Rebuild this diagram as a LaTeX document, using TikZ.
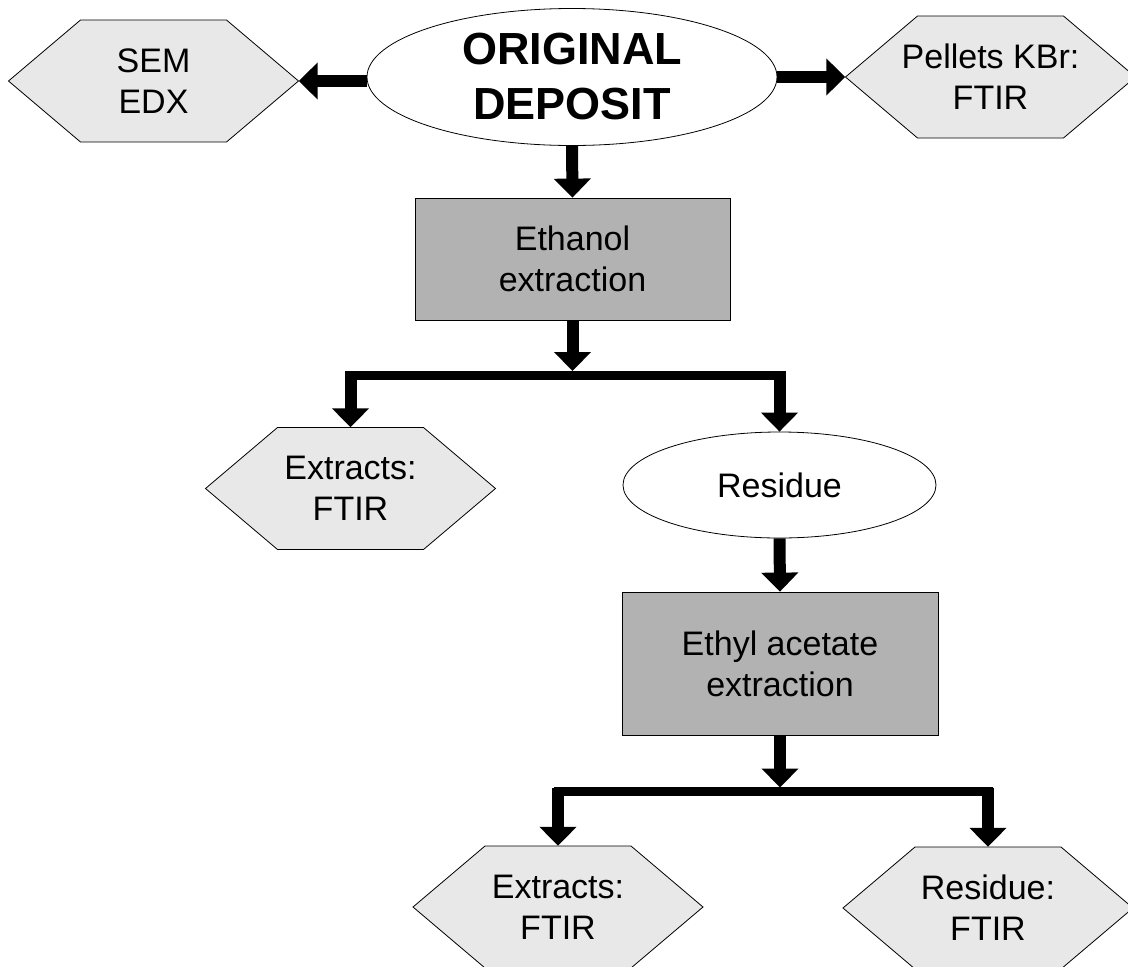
\documentclass[tikz,border=0pt]{standalone}
\usepackage{fontspec}
\setmainfont{Liberation Sans}
\usetikzlibrary{shapes.geometric,arrows.meta,calc}
\definecolor{hexgray}{HTML}{E8E8E8}
\definecolor{boxgray}{HTML}{B2B2B2}
\tikzset{
  hexshape/.style={fill=hexgray, draw=black, line width=0.8pt, line join=miter},
  hextext/.style={minimum width=290pt, minimum height=122pt, inner sep=0pt, align=center, font=\fontsize{34}{41}\selectfont},
  procbox/.style={rectangle, draw=black, line width=0.8pt, fill=boxgray, inner sep=0pt, align=center, font=\fontsize{34}{41}\selectfont},
  oval/.style={ellipse, draw=black, line width=0.8pt, fill=white, inner sep=0pt},
  ovaltext/.style={inner sep=0pt, align=center, font=\fontsize{34}{41}\selectfont},
  titletext/.style={inner sep=0pt, align=center, font=\fontsize{45}{55}\selectfont\bfseries},
  fatarrow/.style={line width=12pt, -{Triangle[width=36pt,length=19pt]}},
  branchbar/.style={line width=9pt, line cap=rect}
}
\newcommand\hexat[4]{%
  \begin{scope}[shift={(#2,#3)}]
    \filldraw[hexshape] (-145,0) -- (-73,-61) -- (73,-61) -- (145,0) -- (73,61) -- (-73,61) -- cycle;
  \end{scope}
  \node[hextext] (#1) at (#2,#3) {#4};
}
\begin{document}
\begin{tikzpicture}[x=1pt,y=-1pt]
\useasboundingbox[fill=white] (0,0) rectangle (1128,967);

% top row
\hexat{sem}{153.5}{81}{SEM\\EDX}
\hexat{pel}{990.5}{77}{Pellets KBr:\\FTIR}
\node[oval, minimum width=410pt, minimum height=137pt] (orig) at (572,77) {};
\node[titletext] (origt) at (orig.center) {ORIGINAL\\DEPOSIT};

% first extraction
\node[procbox, minimum width=315pt, minimum height=122pt] (eth) at (572.5,259) {Ethanol\\extraction};

% first branch level
\hexat{ext1}{350.5}{488.5}{Extracts:\\FTIR}
\node[oval, minimum width=313pt, minimum height=106pt] (res1) at (779.5,485) {};
\node[ovaltext] (res1t) at (res1.center) {Residue};

% second extraction
\node[procbox, minimum width=316pt, minimum height=143pt] (eth2) at (780,663.5) {Ethyl acetate\\extraction};

% second branch level
\hexat{ext2}{558}{907}{Extracts:\\FTIR}
\hexat{res2}{988}{908}{Residue:\\FTIR}

% branch coordinates
\coordinate (b1) at (572.5,375);
\coordinate (b1top) at (572.5,371);
\coordinate (b2) at (780,791.5);
\coordinate (b2top) at (780,787.5);

% connectors: top row
\draw[fatarrow] (sem.east -| orig.west) -- (sem.east);
\draw[fatarrow] (orig.east) -- (pel.west);
\draw[fatarrow] (orig.south) -- (eth.north);

% branch 1
\draw[branchbar] (ext1.north |- b1) -- (res1.north |- b1);
\draw[fatarrow] (eth.south) -- (b1top);
\draw[fatarrow] (ext1.north |- b1top) -- (ext1.north);
\draw[fatarrow] (res1.north |- b1top) -- (res1.north);

% residue to second extraction
\draw[fatarrow] (res1.south) -- (eth2.north);

% branch 2
\draw[branchbar] (ext2.north |- b2) -- (res2.north |- b2);
\draw[fatarrow] (eth2.south) -- (b2top);
\draw[fatarrow] (ext2.north |- b2top) -- (ext2.north);
\draw[fatarrow] (res2.north |- b2top) -- (res2.north);
\end{tikzpicture}
\end{document}
